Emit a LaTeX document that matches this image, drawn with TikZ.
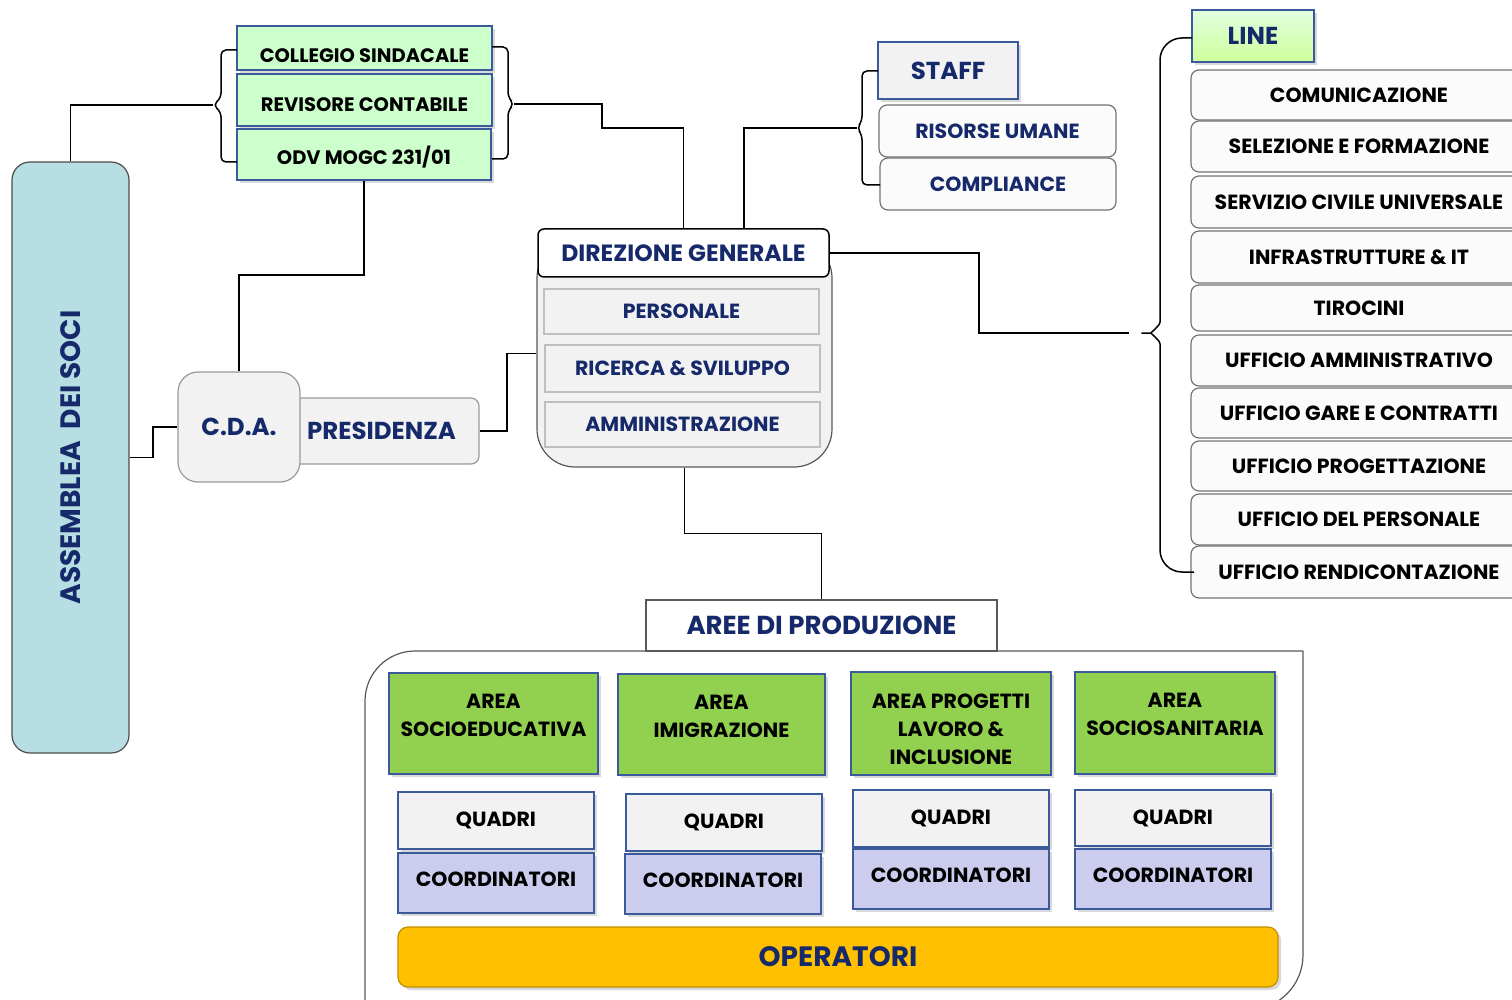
\documentclass[tikz,border=0pt]{standalone}
\usepackage{fontspec}
\setmainfont{Poppins}
\usetikzlibrary{shadows}
\definecolor{navytxt}{HTML}{16296B}
\definecolor{asmfill}{HTML}{B7DEE2}
\definecolor{palegreen}{HTML}{CCFFCC}
\definecolor{areagreen}{HTML}{92D050}
\definecolor{lavender}{HTML}{CCCCEE}
\definecolor{boxblue}{HTML}{3A5A9C}
\definecolor{paper}{HTML}{F2F2F2}
\definecolor{amber}{HTML}{FFC000}
\newcommand\lblfont{\fontsize{20.5}{28}\selectfont\bfseries}
\newcommand\grnfont{\fontsize{19.5}{28}\selectfont\bfseries}
\newcommand\midfont{\fontsize{24.5}{28}\selectfont\bfseries}
\newcommand\bigfont{\fontsize{28}{30}\selectfont\bfseries}
\newcommand\arealines[1]{\parbox[t]{196pt}{\centering #1}}
\tikzset{
  wh/.style 2 args={minimum width=#1,minimum height=#2,inner sep=0},
  shade/.style={drop shadow={shadow xshift=3pt,shadow yshift=-3pt,opacity=0.3}},
  greenbox/.style={draw=boxblue,fill=palegreen,shade,font=\grnfont},
  areabox/.style={draw=boxblue,fill=areagreen,shade,font=\lblfont,text height=14pt,text depth=45pt},
  quadbox/.style={draw=boxblue,fill=paper,shade,font=\lblfont},
  coordbox/.style={draw=boxblue,fill=lavender,shade,font=\lblfont,text depth=7pt},
  softbox/.style={draw=gray!80,line width=1.2pt,fill=paper,rounded corners=8pt,font=\lblfont,text=navytxt},
  listbox/.style={draw=gray!90!black,line width=1.2pt,fill=gray!3,rounded corners=8pt,font=\lblfont},
  innerbox/.style={draw=gray!50,line width=1.2pt,fill=paper,font=\lblfont,text=navytxt},
  brace/.style={line join=round}
}
\begin{document}
\begin{tikzpicture}[x=1pt,y=-1pt,line width=1.5pt]
  \path[use as bounding box] (0,0) rectangle (1512,1000);
  \clip (0,0) rectangle (1512,1000);

  \node[draw=gray!60!black,line width=1.2pt,fill=asmfill,rounded corners=18pt,wh={117}{591},text=navytxt,font=\bigfont] (assemblea) at (70.5,457.5) {\rotatebox{90}{ASSEMBLEA\ \ DEI SOCI}};

  \node[greenbox,wh={255}{44},text height=30pt,text depth=0pt] (collegio) at (364.5,48) {COLLEGIO SINDACALE};
  \node[greenbox,wh={255}{52},text height=24pt,text depth=0pt] (revisore) at (364.5,100) {REVISORE CONTABILE};
  \node[greenbox,wh={254}{51},text height=21pt,text depth=0pt] (odv) at (364,154.5) {ODV MOGC 231/01};
  \coordinate (colL) at (213,105);
  \coordinate (colR) at (514,104);
  \draw[brace,rounded corners=5pt] (237,50) -- (221,50) -- (221,98) -- (colL) -- (221,112) -- (221,162) -- (237,162);
  \draw[brace,rounded corners=5pt] (492,47) -- (508,47) -- (508,97) -- (colR) -- (508,111) -- (508,159) -- (492,159);

  \node[softbox,wh={189}{66},font=\midfont] (presidenza) at (384.5,431) {\hspace*{-6pt}PRESIDENZA};
  \node[softbox,rounded corners=20pt,wh={122}{110},font=\midfont] (cda) at (239,427) {C.D.A.};

  \node[draw=gray!70!black,line width=1.2pt,fill=paper,rounded corners=38pt,wh={295}{227}] (dgbody) at (684.5,353.5) {};
  \node[draw=black,fill=white,rounded corners=6pt,wh={291}{48},text=navytxt,font=\fontsize{23.5}{28}\selectfont\bfseries] (dghead) at (683.5,253) {DIREZIONE GENERALE};
  \node[innerbox,wh={275}{45}] (personale) at (681.5,311.5) {PERSONALE};
  \node[innerbox,wh={275}{47}] (ricerca) at (682.5,368.5) {RICERCA \& SVILUPPO};
  \node[innerbox,wh={275}{45}] (amministrazione) at (682.5,424.5) {AMMINISTRAZIONE};

  \node[draw=boxblue,fill=paper,shade,wh={140}{57},text=navytxt,font=\midfont] (staff) at (948,70.5) {STAFF};
  \node[listbox,wh={237}{52},text=navytxt] (risorse) at (997.5,131) {RISORSE UMANE};
  \node[listbox,wh={236}{52},text=navytxt] (compliance) at (998,184) {COMPLIANCE};
  \coordinate (staffL) at (857,128);
  \draw[brace,rounded corners=5pt] (878,71) -- (862,71) -- (862,121) -- (staffL) -- (862,135) -- (862,185) -- (880,185);

  \node[draw=boxblue,top color=green!12,bottom color=green!30!lime!40,shade,wh={122}{52},text=navytxt,font=\midfont] (line) at (1253,36) {LINE};
  \foreach \ya/\yb/\name [count=\i] in {70/120/COMUNICAZIONE,121/172/SELEZIONE E FORMAZIONE,176/228/SERVIZIO CIVILE UNIVERSALE,231/283/INFRASTRUTTURE \& IT,285/331/TIROCINI,335/386/UFFICIO AMMINISTRATIVO,388/438/UFFICIO GARE E CONTRATTI,441/491/UFFICIO PROGETTAZIONE,494/545/UFFICIO DEL PERSONALE,546/598/UFFICIO RENDICONTAZIONE}
    \node[listbox,minimum width=336,minimum height={\yb-\ya},inner sep=0] (line\i) at (1359,{(\ya+\yb)/2}) {\name};
  \coordinate (lineL) at (1129,333);
  \draw[brace,rounded corners=22pt] (1192,38) -- (1160,38) -- (1160,300) .. controls (1160,326) and (1150,333) .. (lineL) .. controls (1150,333) and (1160,340) .. (1160,366) -- (1160,572) -- (1194,572);

  \draw[gray!70!black,line width=1.2pt,rounded corners=50pt] (1303,651) -- (365,651) -- (365,1060);
  \draw[gray!70!black,line width=1.2pt,rounded corners=55pt] (1303,651) -- (1303,1010) -- (1150,1010);
  \node[draw=gray!70!black,line width=1.2pt,fill=white,wh={351}{51},text=navytxt,font=\fontsize{26}{28}\selectfont\bfseries] (aree) at (821.5,625.5) {AREE DI PRODUZIONE};

  \node[areabox,wh={209}{101}] (socioedu) at (493.5,723.5) {\arealines{AREA\\SOCIOEDUCATIVA}};
  \node[areabox,wh={207}{101}] (imigrazione) at (721.5,724.5) {\arealines{AREA\\IMIGRAZIONE}};
  \node[areabox,wh={200}{103}] (progetti) at (951,723.5) {\arealines{AREA PROGETTI\\LAVORO \&\\INCLUSIONE}};
  \node[areabox,wh={200}{102}] (sociosan) at (1175,723) {\arealines{AREA\\SOCIOSANITARIA}};
  \node[quadbox,wh={196}{57}] (quadri1) at (496,820.5) {QUADRI};
  \node[quadbox,wh={196}{57}] (quadri2) at (724,822.5) {QUADRI};
  \node[quadbox,wh={196}{57}] (quadri3) at (951,818.5) {QUADRI};
  \node[quadbox,wh={196}{56}] (quadri4) at (1173,818) {QUADRI};
  \node[coordbox,wh={196}{60}] (coord1) at (496,883) {COORDINATORI};
  \node[coordbox,wh={196}{60}] (coord2) at (723,884) {COORDINATORI};
  \node[coordbox,wh={196}{60}] (coord3) at (951,879) {COORDINATORI};
  \node[coordbox,wh={196}{60}] (coord4) at (1173,879) {COORDINATORI};
  \node[draw=amber!75!black,line width=1.2pt,fill=amber,rounded corners=10pt,shade,wh={880}{60},text=navytxt,font=\bigfont] (operatori) at (838,957) {OPERATORI};

  \draw (assemblea.north) |- (colL);
  \draw (colR) -| (602,128) -| (dghead.north);
  \draw (odv.south) |- (239,275) -| (cda.north);
  \draw (assemblea.east) -| (153,427) -- (cda.west);
  \draw (presidenza.east) -| (507,353.5) -- (dgbody.west);
  \draw ([xshift=60.5pt]dghead.north) |- (staffL);
  \draw (dghead.east) -| (979,333) -- (lineL);
  \draw (dgbody.south) -- ++(0,66) -| (aree.north);
\end{tikzpicture}
\end{document}
